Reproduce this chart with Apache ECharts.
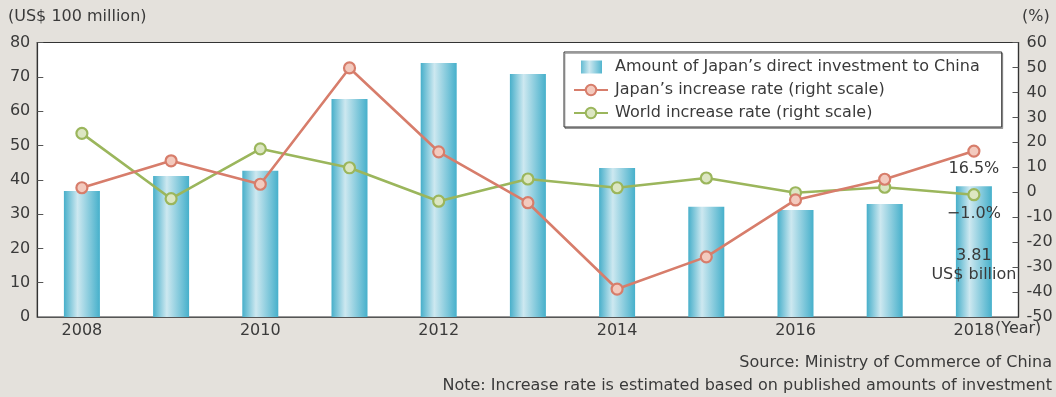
<!DOCTYPE html>
<html>
<head>
<meta charset="utf-8">
<script src="https://cdn.jsdelivr.net/npm/echarts@6/dist/echarts.min.js"></script>
<style>
html,body{margin:0;padding:0;background:#e4e1dc;}
#chart{width:1056px;height:397px;}
</style>
</head>
<body>
<div id="chart"></div>
<script>
const years = ['2008','2009','2010','2011','2012','2013','2014','2015','2016','2017','2018'];
const investment = [36.7, 41.1, 42.6, 63.5, 74.0, 70.8, 43.4, 32.1, 31.2, 32.9, 38.1];
const japanRate = [1.8, 12.6, 3.2, 49.8, 16.2, -4.2, -38.8, -25.9, -3.1, 5.2, 16.5];
const worldRate = [23.6, -2.6, 17.4, 9.8, -3.6, 5.3, 1.8, 5.7, -0.2, 2.0, -1.0];
const seriesNames = ['Amount of Japan\u2019s direct investment to China', 'Japan\u2019s increase rate (right scale)', 'World increase rate (right scale)'];
const lastLabels = ['3.81\nUS$ billion', '16.5%', '\u22121.0%'];
const leftAxisName = '(US$ 100 million)';
const rightAxisName = '(%)';
const yearUnit = '(Year)';
const notes = ['Source: Ministry of Commerce of China', 'Note: Increase rate is estimated based on published amounts of investment'];

const FONT = 'DejaVu Sans';
const TXT = '#3a3a3a';
const barGrad = new echarts.graphic.LinearGradient(0, 0, 1, 0, [
  {offset: 0, color: '#47afca'},
  {offset: 0.38, color: '#cde8f0'},
  {offset: 1, color: '#46b0cb'}
]);
const legendBarGrad = new echarts.graphic.LinearGradient(0, 0, 1, 0, [
  {offset: 0.14, color: '#47afca'},
  {offset: 0.45, color: '#cde8f0'},
  {offset: 0.86, color: '#46b0cb'}
]);

const lastIdx = years.length - 1;
const barData = investment.map((v, i) => i === lastIdx ? {
  value: v,
  label: {show: true, formatter: lastLabels[0], position: 'inside', offset: [0, 14],
    color: TXT, fontSize: 16, lineHeight: 19, fontFamily: FONT}
} : v);
const japanData = japanRate.map((v, i) => i === lastIdx ? {
  value: v,
  label: {show: true, formatter: lastLabels[1], position: 'bottom', distance: 2,
    color: TXT, fontSize: 16, lineHeight: 18, fontFamily: FONT}
} : v);
const worldData = worldRate.map((v, i) => i === lastIdx ? {
  value: v,
  label: {show: true, formatter: lastLabels[2], position: 'bottom', distance: 4,
    color: TXT, fontSize: 16, lineHeight: 18, fontFamily: FONT}
} : v);

const chart = echarts.init(document.getElementById('chart'), null, {renderer: 'canvas'});
chart.setOption({
  backgroundColor: '#e4e1dc',
  animation: false,
  textStyle: {fontFamily: FONT, color: TXT},
  grid: {left: 37.3, right: 37.5, top: 42.5, bottom: 80, show: true,
    backgroundColor: '#ffffff', borderColor: '#333', borderWidth: 1.2},
  legend: {
    orient: 'vertical', left: 564, top: 52,
    backgroundColor: '#ffffff', borderColor: '#333', borderWidth: 1,
    shadowColor: 'rgba(0,0,0,0.3)', shadowOffsetX: 1, shadowOffsetY: 1.5, shadowBlur: 0,
    padding: [7, 22, 6, 9], itemGap: 7, itemWidth: 34, itemHeight: 13,
    textStyle: {fontSize: 16, color: TXT, fontFamily: FONT, lineHeight: 16, padding: [0, 0, 0, 2]},
    data: [
      {name: seriesNames[0], icon: 'path://M0,0M34,13M7,0H28V13H7Z', itemStyle: {color: legendBarGrad}},
      {name: seriesNames[1]},
      {name: seriesNames[2]}
    ]
  },
  xAxis: {
    type: 'category', data: years,
    axisLine: {lineStyle: {color: '#555', width: 1.2}},
    axisTick: {show: false},
    axisLabel: {interval: 1, margin: 6, fontSize: 16, color: TXT, fontFamily: FONT}
  },
  yAxis: [
    {type: 'value', min: 0, max: 80, interval: 10,
      axisLine: {show: true, lineStyle: {color: '#333', width: 1.2}},
      axisTick: {show: true, inside: true, length: 6, lineStyle: {color: '#555'}},
      axisLabel: {margin: 7, fontSize: 16, color: TXT, fontFamily: FONT},
      splitLine: {show: false}},
    {type: 'value', min: -50, max: 60, interval: 10,
      axisLine: {show: true, lineStyle: {color: '#333', width: 1.2}},
      axisTick: {show: true, inside: true, length: 6, lineStyle: {color: '#555'}},
      axisLabel: {margin: 8, fontSize: 16, color: TXT, fontFamily: FONT},
      splitLine: {show: false}}
  ],
  series: [
    {name: seriesNames[0], type: 'bar', data: barData, barWidth: 36, yAxisIndex: 0,
      itemStyle: {color: barGrad}, z: 2},
    {name: seriesNames[1], type: 'line', data: japanData, yAxisIndex: 1,
      symbol: 'circle', symbolSize: 11,
      lineStyle: {color: '#d77d6b', width: 2.6},
      itemStyle: {color: '#f3cabe', borderColor: '#d77d6b', borderWidth: 2.2}, z: 4},
    {name: seriesNames[2], type: 'line', data: worldData, yAxisIndex: 1,
      symbol: 'circle', symbolSize: 11,
      lineStyle: {color: '#9bb65c', width: 2.6},
      itemStyle: {color: '#dce6c2', borderColor: '#9bb65c', borderWidth: 2.2}, z: 3}
  ],
  graphic: [
    {type: 'text', left: 8, top: 9, style: {text: leftAxisName, fontSize: 16, fill: TXT, fontFamily: FONT}},
    {type: 'text', left: 1022, top: 9, style: {text: rightAxisName, fontSize: 16, fill: TXT, fontFamily: FONT}},
    {type: 'text', left: 995, top: 321, style: {text: yearUnit, fontSize: 16, fill: TXT, fontFamily: FONT}},
    {type: 'text', right: 4, top: 355, style: {text: notes[0], fontSize: 16, fill: TXT, fontFamily: FONT}},
    {type: 'text', right: 4, top: 378, style: {text: notes[1], fontSize: 16, fill: TXT, fontFamily: FONT}}
  ]
});
</script>
</body>
</html>
